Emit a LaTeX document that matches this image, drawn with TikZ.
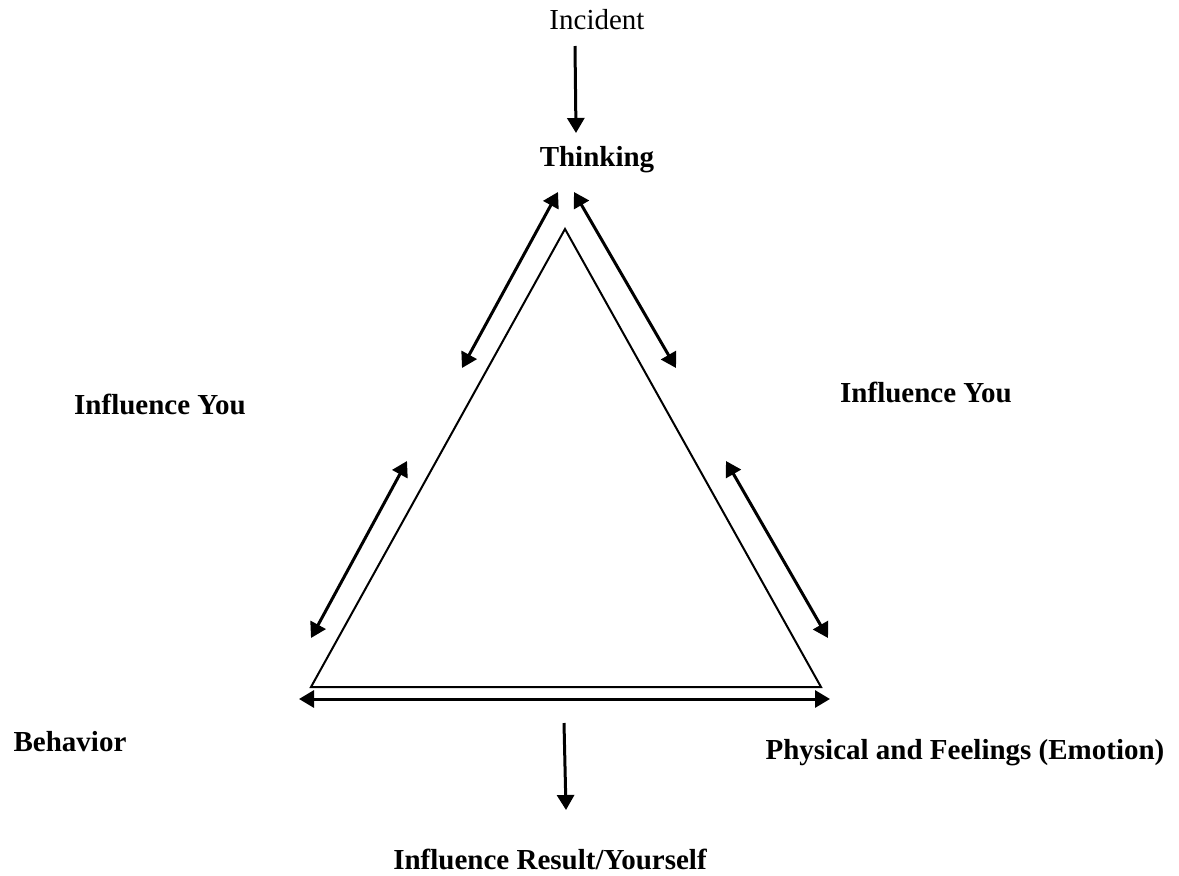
\documentclass[tikz,border=0pt]{standalone}
\usepackage{fontspec}
\setmainfont{Liberation Serif}
\usetikzlibrary{arrows.meta}
\begin{document}
\begin{tikzpicture}[x=1pt,y=-1pt,
  lbl/.style={font=\fontsize{29}{34}\selectfont, inner sep=0pt},
  blbl/.style={lbl, font=\fontsize{29}{34}\selectfont\bfseries},
  tip/.tip={Triangle[length=15pt,width=17pt]},
  arr/.style={line width=3pt, -tip},
  darr/.style={line width=3pt, tip-tip},
  tri/.style={line width=2pt, line join=miter}]
\useasboundingbox (0,0) rectangle (1179,876);
% labels
\node[lbl]  (incident) at (597,20)  {Incident};
\node[blbl] (thinking) at (597,160) {Thinking};
\node[blbl] (infl)     at (160,404) {Influence You};
\node[blbl] (infr)     at (926,392) {Influence You};
\node[blbl] (behavior) at (70,742)  {Behavior};
\node[blbl] (phys)     at (965,753) {Physical and Feelings (Emotion)};
\node[blbl] (result)   at (550,859) {Influence Result/Yourself};
% triangle
\coordinate (A) at (565,229);
\coordinate (B) at (311,687);
\coordinate (C) at (821,687);
\draw[tri] (A) -- (B) -- (C) -- cycle;
% arrow endpoints
\coordinate (i1) at (575,46);   \coordinate (i2) at (576,133);
\coordinate (l1) at (462,368);  \coordinate (l2) at (558,192);
\coordinate (r1) at (574,192);  \coordinate (r2) at (676,368);
\coordinate (l3) at (407,461);  \coordinate (l4) at (311,638);
\coordinate (r3) at (726,461);  \coordinate (r4) at (828,638);
\coordinate (b1) at (299,699);  \coordinate (b2) at (830,699);
\coordinate (d1) at (564,723);  \coordinate (d2) at (566,810);
% connectors
\draw[arr]  (i1) -- (i2);
\draw[darr] (l1) -- (l2);
\draw[darr] (r1) -- (r2);
\draw[darr] (l3) -- (l4);
\draw[darr] (r3) -- (r4);
\draw[darr] (b1) -- (b2);
\draw[arr]  (d1) -- (d2);
\end{tikzpicture}
\end{document}
